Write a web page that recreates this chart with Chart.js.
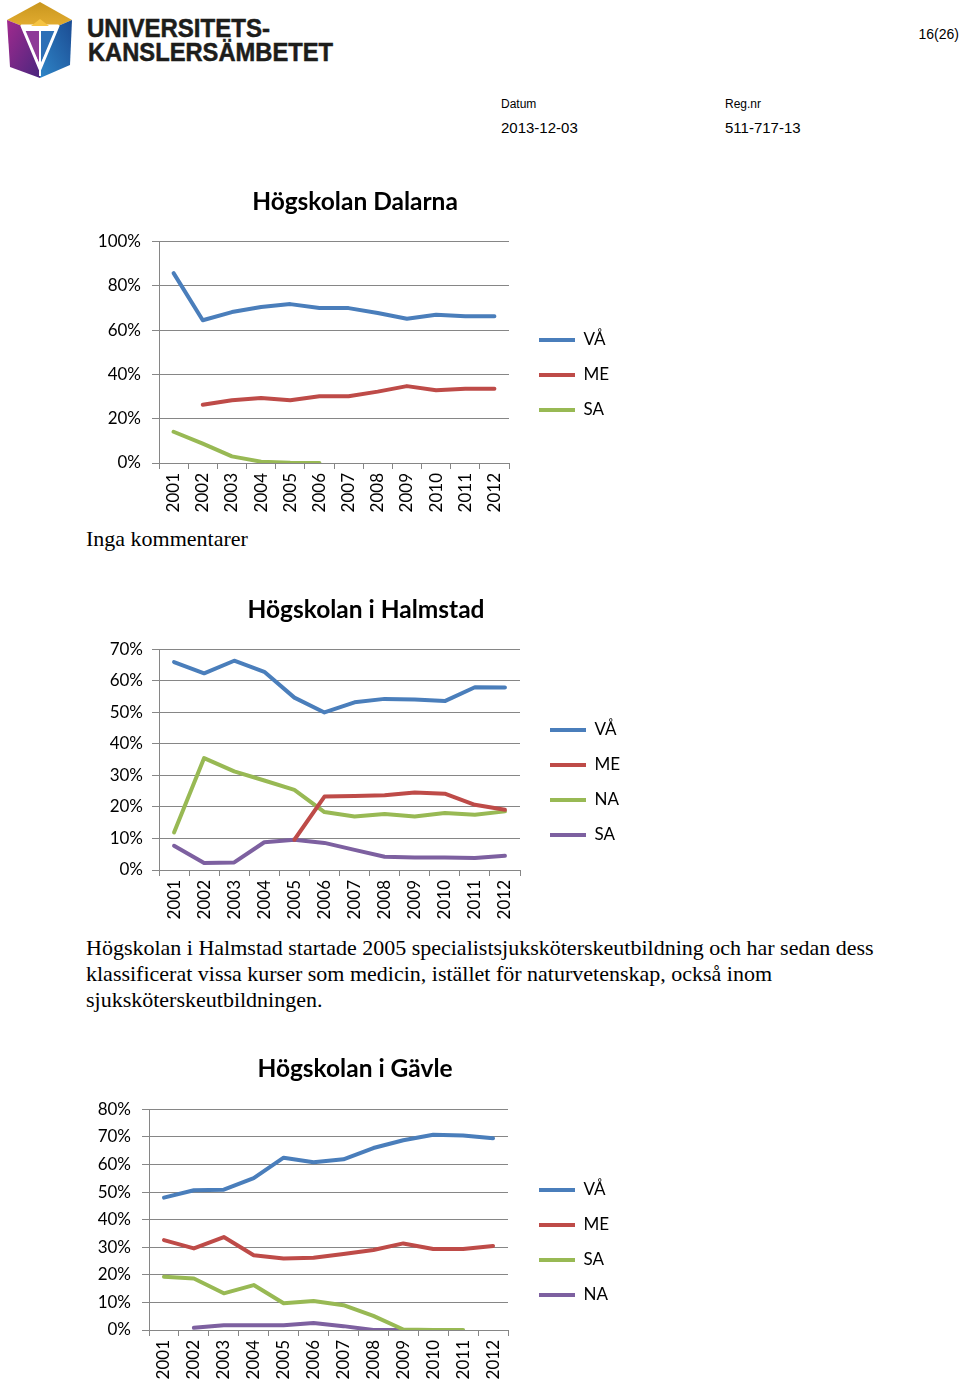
<!DOCTYPE html>
<html>
<head>
<meta charset="utf-8">
<script src="https://cdn.jsdelivr.net/npm/chart.js@4/dist/chart.umd.min.js"></script>
<style>
body{margin:0;background:#fff;}
#page{position:relative;width:960px;height:1383px;overflow:hidden;background:#fff;}
.t{position:absolute;white-space:nowrap;color:#000;}
.sans{font-family:"Liberation Sans",Arial,sans-serif;}
.serif{font-family:"Liberation Serif","Times New Roman",serif;font-size:22px;line-height:26px;}
.box{position:absolute;}
</style>
</head>
<body>
<div id="page">

<svg class="box" style="left:0;top:0" width="350" height="80">
<defs>
<linearGradient id="gold" x1="0" y1="0" x2="0" y2="1"><stop offset="0" stop-color="#c9961e"/><stop offset="1" stop-color="#e2ac30"/></linearGradient>
<linearGradient id="purp" x1="0" y1="0" x2="1" y2="1"><stop offset="0" stop-color="#a02a8e"/><stop offset="1" stop-color="#4a267e"/></linearGradient>
<linearGradient id="blu" x1="1" y1="0" x2="0" y2="1"><stop offset="0" stop-color="#1b4b92"/><stop offset="1" stop-color="#2f86c8"/></linearGradient>
</defs>
<polygon points="7,20 40,2 72,20 58,26 22,26" fill="url(#gold)"/>
<polygon points="7,20 22,26 40,70 40,78 10,67" fill="url(#purp)"/>
<polygon points="72,20 58,26 40,70 40,78 70,65" fill="url(#blu)"/>
<polygon points="24,31 39,31 39,63" fill="#8e3a98"/>
<polygon points="56,31 41,31 41,63" fill="#2c6fb6"/>
<polygon points="22,26 58,26 40,69" fill="none" stroke="#fff" stroke-width="3" stroke-linejoin="round"/>
<line x1="40" y1="26" x2="40" y2="76" stroke="#fff" stroke-width="2"/>
<polygon points="31,26 40,19 49,26" fill="#f5c342"/>
<g font-family="Liberation Sans, Arial, sans-serif" font-weight="bold" font-size="25" fill="#1d1d1b" stroke="#1d1d1b" stroke-width="0.5">
<text x="87" y="37" textLength="183" lengthAdjust="spacingAndGlyphs">UNIVERSITETS-</text>
<text x="88" y="61" textLength="245" lengthAdjust="spacingAndGlyphs">KANSLERSÄMBETET</text>
</g>
</svg>

<div class="t sans" style="right:1px;top:27px;font-size:14px;line-height:14px;">16(26)</div>
<div class="t sans" style="left:501px;top:98px;font-size:12px;line-height:12px;">Datum</div>
<div class="t sans" style="left:725px;top:98px;font-size:12px;line-height:12px;">Reg.nr</div>
<div class="t sans" style="left:501px;top:120px;font-size:15px;line-height:15px;">2013-12-03</div>
<div class="t sans" style="left:725px;top:120px;font-size:15px;line-height:15px;">511-717-13</div>

<div class="box" style="left:80px;top:180px;width:560px;height:345px;"><canvas id="c1"></canvas></div>
<div class="t serif" style="left:86px;top:526px;">Inga kommentarer</div>

<div class="box" style="left:80px;top:585px;width:560px;height:345px;"><canvas id="c2"></canvas></div>
<div class="t serif" style="left:86px;top:935px;">Högskolan i Halmstad startade 2005 specialistsjuksköterskeutbildning och har sedan dess<br>klassificerat vissa kurser som medicin, istället för naturvetenskap, också inom<br>sjuksköterskeutbildningen.</div>

<div class="box" style="left:70px;top:1045px;width:570px;height:338px;"><canvas id="c3"></canvas></div>

</div>
<script>
// years on the x axis
const years = ["2001","2002","2003","2004","2005","2006","2007","2008","2009","2010","2011","2012"];

// Högskolan Dalarna (%)
const daVA = [85.7, 64.4, 68.1, 70.4, 71.7, 69.9, 69.9, 67.7, 65.1, 66.9, 66.2, 66.2];
const daME = [null, 26.3, 28.3, 29.3, 28.3, 30.1, 30.1, 32.2, 34.7, 32.8, 33.5, 33.5];
const daSA = [14.1, 8.7, 3.0, 0.6, 0.1, 0, null, null, null, null, null, null];

// Högskolan i Halmstad (%)
const haVA = [66.0, 62.4, 66.4, 62.9, 54.7, 50.0, 53.2, 54.3, 54.1, 53.6, 58.0, 57.9];
const haME = [null, null, null, null, 9.6, 23.3, 23.5, 23.7, 24.6, 24.2, 20.7, 19.1];
const haNA = [11.9, 35.5, 31.3, 28.4, 25.4, 18.4, 17.0, 17.8, 17.0, 18.1, 17.5, 18.6];
const haSA = [7.7, 2.2, 2.4, 8.8, 9.6, 8.6, 6.4, 4.2, 4.0, 4.0, 3.8, 4.5];

// Högskolan i Gävle (%)
const gaVA = [48.0, 50.7, 50.9, 55.1, 62.5, 60.8, 61.9, 66.0, 68.8, 70.8, 70.5, 69.5];
const gaME = [32.6, 29.6, 33.7, 27.1, 25.9, 26.2, 27.6, 29.0, 31.4, 29.4, 29.4, 30.5];
const gaSA = [19.3, 18.7, 13.3, 16.3, 9.7, 10.5, 9.0, 5.1, 0.2, 0, 0, null];
const gaNA = [null, 0.8, 1.7, 1.7, 1.7, 2.5, 1.4, 0, 0, 0, null, null];

const BLUE = "#4a7ebb", RED = "#be4b48", GREEN = "#98b954", PURPLE = "#7d60a0";
const GRID = "#868686";
const LEGEND_PAD = 18, FONT = 17;

Chart.defaults.font.family = "Lato, 'Open Sans', sans-serif";
Chart.defaults.font.size = FONT;
Chart.defaults.color = "#000";

// moves legend and title to where the original report has them
const placeBlocks = {
  id: "placeBlocks",
  afterLayout(chart, args, o){
    const lg = chart.legend;
    lg.left = o.legendX - LEGEND_PAD;
    lg.right = lg.left + 150;
    lg.top = o.legendY - LEGEND_PAD - FONT/2;
    lg.bottom = lg.top + 400;
    const t = chart.titleBlock;
    t.left = o.titleX - 250;
    t.right = o.titleX + 250;
  }
};

function line(label, data, color){
  return {
    label: label,
    data: data,
    borderColor: color,
    backgroundColor: color,
    borderWidth: 4,
    pointRadius: 0,
    tension: 0,
    borderCapStyle: "round",
    borderJoinStyle: "round",
    spanGaps: false
  };
}

function makeChart(id, title, datasets, yMax, yStep, p){

new Chart(document.getElementById(id),{

type:"line",

data:{
labels: years,
datasets: datasets
},

plugins:[placeBlocks],

options:{
responsive:true,
maintainAspectRatio:false,
animation:false,
layout:{padding:{left:0,top:0,bottom:0,right:p.padRight}},
plugins:{
title:{
display:true,
text:title,
font:{size:24.5,weight:"bold"},
padding:{top:p.titleTop,bottom:p.titleBottom}
},
legend:{
position:"right",
align:"start",
maxWidth:1,
labels:{
usePointStyle:true,
pointStyle:"line",
pointStyleWidth:36,
padding:LEGEND_PAD,
font:{size:FONT}
}
},
tooltip:{enabled:false},
placeBlocks:{legendX:p.legendX, legendY:p.legendY, titleX:p.titleX}
},
scales:{
x:{
offset:true,
afterFit:(s)=>{ s.height = p.xHeight; },
grid:{offset:true, drawOnChartArea:false, drawTicks:true, tickLength:6, color:GRID},
border:{display:true, color:GRID, width:1},
ticks:{maxRotation:90, minRotation:90, padding:4, autoSkip:false, font:{size:FONT}}
},
y:{
min:0,
max:yMax,
afterFit:(s)=>{ s.width = p.yWidth; },
grid:{color:GRID, lineWidth:1, drawTicks:true, tickLength:7},
border:{display:true, color:GRID, width:1},
ticks:{stepSize:yStep, padding:p.yPad, font:{size:FONT}, callback:(v)=>v+"%"}
}
}
}

});

}

makeChart("c1","Högskolan Dalarna",
[line("VÅ",daVA,BLUE), line("ME",daME,RED), line("SA",daSA,GREEN)],
100, 20,
{padRight:130, titleTop:7.5, titleBottom:24.5, xHeight:62, yWidth:79, yPad:11, legendX:459, legendY:160, titleX:275});

makeChart("c2","Högskolan i Halmstad",
[line("VÅ",haVA,BLUE), line("ME",haME,RED), line("NA",haNA,GREEN), line("SA",haSA,PURPLE)],
70, 10,
{padRight:119, titleTop:10.5, titleBottom:24.5, xHeight:60, yWidth:79, yPad:9, legendX:470, legendY:145, titleX:286});

makeChart("c3","Högskolan i Gävle",
[line("VÅ",gaVA,BLUE), line("ME",gaME,RED), line("SA",gaSA,GREEN), line("NA",gaNA,PURPLE)],
80, 10,
{padRight:131, titleTop:9.5, titleBottom:25.5, xHeight:53, yWidth:79, yPad:11, legendX:469, legendY:145, titleX:285});
</script>
</body>
</html>
